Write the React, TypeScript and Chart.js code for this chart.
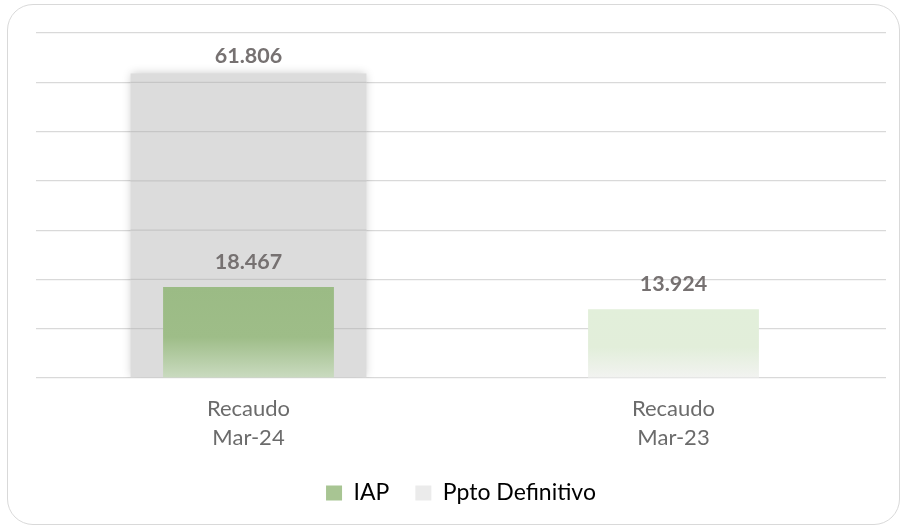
import React, { useEffect, useRef } from 'react';
import { Chart, registerables } from 'chart.js';

Chart.register(...registerables);

const categories: string[][] = [
  ['Recaudo', 'Mar-24'],
  ['Recaudo', 'Mar-23'],
];
const seriesNames = ['IAP', 'Ppto Definitivo'];
const iapValues: number[] = [18467, 13924];
const pptoValues: (number | null)[] = [61806, null];
const yMin = 0;
const yMax = 70000;
const yStep = 10000;

const FONT = "Lato, 'Open Sans', sans-serif";

const iapColors = [
  { top: '#9BBB85', mid: '#9EBD88', bottom: '#CADBC0' },
  { top: '#E2EFDA', mid: '#E2EEDA', bottom: '#F2F3F1' },
];

function fmt(v: number): string {
  return Math.round(v)
    .toString()
    .replace(/\B(?=(\d{3})+(?!\d))/g, '.');
}

const barDecor = {
  id: 'barDecor',
  beforeDatasetDraw(chart: any, args: any) {
    if (args.index === 1) {
      const ctx = chart.ctx;
      ctx.save();
      ctx.shadowColor = 'rgba(0,0,0,0.22)';
      ctx.shadowBlur = 9;
    }
  },
  afterDatasetDraw(chart: any, args: any) {
    if (args.index !== 1) return;
    const ctx = chart.ctx;
    ctx.restore();
    const meta = chart.getDatasetMeta(1);
    const ys = chart.scales.y;
    meta.data.forEach((bar: any, i: number) => {
      if (pptoValues[i] == null) return;
      const { x, y, width, base } = bar.getProps(['x', 'y', 'width', 'base'], true);
      ctx.save();
      ctx.strokeStyle = '#C6C6C6';
      ctx.lineWidth = 1.25;
      ys.ticks.forEach((t: any) => {
        const py = ys.getPixelForValue(t.value);
        if (py >= y && py <= base + 0.5) {
          ctx.beginPath();
          ctx.moveTo(x - width / 2, py);
          ctx.lineTo(x + width / 2, py);
          ctx.stroke();
        }
      });
      ctx.restore();
    });
  },
  afterDatasetsDraw(chart: any) {
    const ctx = chart.ctx;
    ctx.save();
    ctx.font = `bold 21.5px ${FONT}`;
    ctx.fillStyle = '#767171';
    ctx.textAlign = 'center';
    ctx.textBaseline = 'middle';
    const offsets = [25, 17];
    [0, 1].forEach((di) => {
      const meta = chart.getDatasetMeta(di);
      const values = di === 0 ? iapValues : pptoValues;
      meta.data.forEach((bar: any, i: number) => {
        const v = values[i];
        if (v == null) return;
        const { x, y } = bar.getProps(['x', 'y'], true);
        ctx.fillText(fmt(v), x, y - offsets[di]);
      });
    });
    ctx.restore();
  },
};

export default function App() {
  const canvasRef = useRef<HTMLCanvasElement | null>(null);

  useEffect(() => {
    const canvas = canvasRef.current;
    if (!canvas) return;
    const chart = new Chart(canvas, {
      type: 'bar',
      data: {
        labels: categories as any,
        datasets: [
          {
            label: seriesNames[0],
            data: iapValues,
            grouped: false,
            barPercentage: 0.402,
            categoryPercentage: 1,
            borderWidth: 0,
            backgroundColor: (c: any) => {
              const idx = c.dataIndex ?? 0;
              const col = iapColors[idx] || iapColors[0];
              const chart = c.chart;
              const ys = chart.scales && chart.scales.y;
              const v = c.raw;
              if (!ys || v == null || c.type !== 'data') return col.top;
              const top = ys.getPixelForValue(v);
              const base = ys.getPixelForValue(0);
              if (!isFinite(top) || !isFinite(base) || base <= top) return col.top;
              const g = chart.ctx.createLinearGradient(0, top, 0, base);
              g.addColorStop(0, col.top);
              g.addColorStop(0.55, col.mid);
              g.addColorStop(1, col.bottom);
              return g;
            },
          } as any,
          {
            label: seriesNames[1],
            data: pptoValues,
            grouped: false,
            barPercentage: 0.555,
            categoryPercentage: 1,
            borderWidth: 0,
            backgroundColor: '#DCDCDC',
          } as any,
        ],
      },
      options: {
        animation: false,
        responsive: false,
        maintainAspectRatio: false,
        layout: { padding: { left: 36, right: 16, top: 33, bottom: 15.5 } },
        scales: {
          x: {
            grid: { display: false, drawTicks: false },
            border: { display: false },
            ticks: {
              padding: 16,
              color: '#6B6B6B',
              font: { family: FONT, size: 22, lineHeight: 1.32 },
            },
            afterFit: (scale: any) => {
              scale.height = 77.5;
            },
          },
          y: {
            min: yMin,
            max: yMax,
            ticks: { display: false, stepSize: yStep },
            grid: { color: '#D9D9D9', lineWidth: 1.25, drawTicks: false },
            border: { display: false },
          },
        },
        plugins: {
          legend: {
            position: 'bottom',
            labels: {
              boxWidth: 16,
              boxHeight: 15,
              padding: 26,
              color: '#0D0D0D',
              font: { family: FONT, size: 23 },
              generateLabels: () => [
                { text: seriesNames[0], fillStyle: '#A8C593', strokeStyle: 'rgba(0,0,0,0)', lineWidth: 0, datasetIndex: 0, hidden: false } as any,
                { text: seriesNames[1], fillStyle: '#EBEBEB', strokeStyle: 'rgba(0,0,0,0)', lineWidth: 0, datasetIndex: 1, hidden: false } as any,
              ],
            },
          },
          tooltip: { enabled: false },
        },
      },
      plugins: [barDecor],
    });
    return () => chart.destroy();
  }, []);

  return (
    <>
      <div
        style={{
          position: 'fixed',
          left: 7,
          top: 4,
          width: 893,
          height: 521,
          border: '1.5px solid #D9D9D9',
          borderRadius: 26,
          boxSizing: 'border-box',
          background: '#FFFFFF',
        }}
      />
      <canvas
        ref={canvasRef}
        width={902}
        height={530}
        style={{ position: 'fixed', left: 0, top: 0, width: 902, height: 530, display: 'block' }}
      />
    </>
  );
}
